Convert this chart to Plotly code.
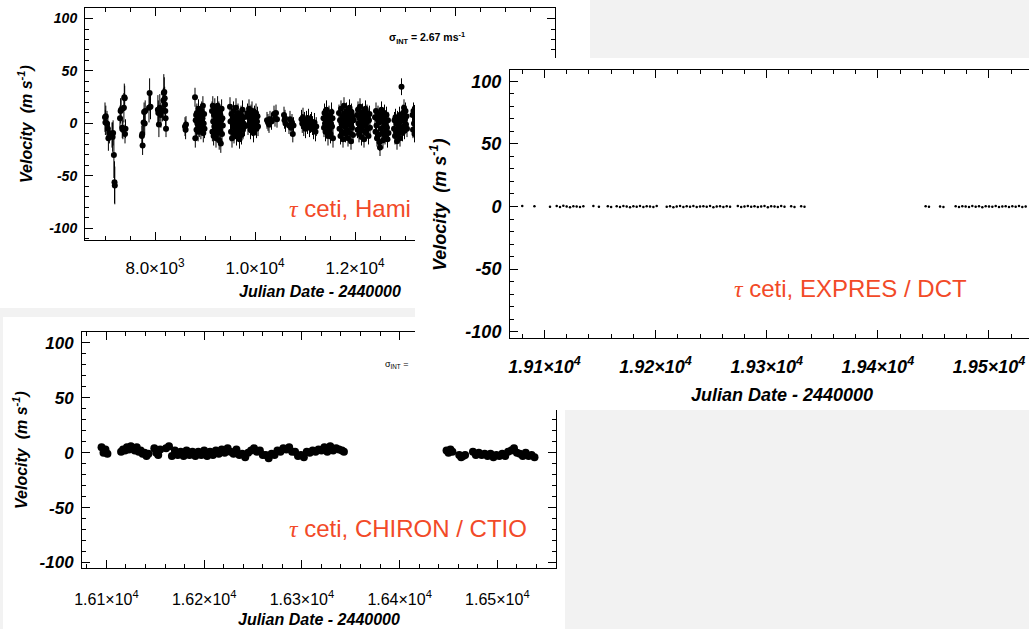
import plotly.graph_objects as go

W, H = 1029, 629

# ---------------- data ----------------
hami_jd = [7000, 7008, 7016, 7040, 7058, 7068, 7088,
           7140, 7152, 7162, 7178, 7190, 7196,
           7300, 7312, 7322, 7345, 7358, 7378, 7386, 7394, 7400, 7410,
           7738, 7746, 7752, 7772, 7782, 7794, 7804,
           7880, 7892, 7910,
           8058, 8066, 8078, 8096, 8118, 8148, 8168, 8176, 8186, 8194, 8200, 8206, 8212, 8220,
           8600, 8612, 8620,
           8800, 8806, 8814, 8822, 8830, 8838, 8846, 8854, 8862, 8870, 8878, 8886, 8894, 8902, 8910, 8918,
           8926, 8934, 8942, 8950, 8958, 8966, 8974, 8982, 8990,
           9140, 9148, 9156, 9164, 9172, 9180, 9188, 9196, 9204, 9212, 9220, 9228, 9236, 9244, 9252, 9260,
           9268, 9276, 9284, 9292, 9300, 9308, 9316, 9324, 9332, 9340, 9348, 9356,
           9500, 9510, 9520, 9530, 9540, 9550, 9560, 9570, 9580, 9590, 9600, 9610, 9620, 9630, 9640, 9650,
           9660, 9670, 9680, 9690, 9700, 9710, 9720, 9730, 9740, 9750, 9760, 9770, 9780, 9790,
           9850, 9860, 9870, 9880, 9890, 9900, 9910, 9920, 9930, 9940, 9950, 9960, 9970, 9980, 9990, 10000,
           10010, 10020, 10030, 10040, 10050, 10060,
           10240, 10260, 10280, 10300, 10330, 10380, 10400, 10420, 10440,
           10580, 10590, 10600, 10610, 10680, 10700, 10720, 10740, 10756, 10770,
           10930, 10945, 10960, 10975, 10990, 11010, 11030, 11050, 11070, 11090, 11110, 11130, 11150, 11170,
           11190, 11210, 11225,
           11370, 11380, 11390, 11400, 11410, 11420, 11430, 11440, 11450, 11460, 11470, 11480, 11490, 11500,
           11510, 11520, 11530, 11540, 11550, 11560,
           11680, 11690, 11700, 11710, 11720, 11730, 11740, 11750, 11760, 11770, 11780, 11790, 11800, 11810,
           11820, 11830, 11840, 11850, 11860, 11870, 11880, 11890, 11900, 11910, 11920, 11930, 11940, 11950,
           11960, 11970,
           12040, 12050, 12060, 12070, 12080, 12090, 12100, 12110, 12120, 12130, 12140, 12150, 12160, 12170,
           12180, 12190, 12200, 12210, 12220, 12230, 12240, 12250, 12260, 12270, 12280, 12290, 12300,
           12400, 12410, 12420, 12430, 12440, 12450, 12460, 12470, 12480, 12490, 12500, 12510, 12520, 12530,
           12540, 12550, 12560, 12570, 12580, 12590, 12600, 12610, 12620, 12630, 12640, 12650, 12660, 12670,
           12780, 12790, 12800, 12810, 12820, 12830, 12840, 12850, 12860, 12870, 12880, 12890, 12900, 12910,
           12920, 12930, 12940, 12950, 12960, 12970, 12980, 12990, 13000, 13010, 13020, 13030, 13040,
           13150, 13160, 13170, 13180, 13190, 13200, 13210, 13220, 13230, 13240, 13250]
hami_rv = [6, 1, 7, 0, -5, -14, -9,
           -11, -13, -9, -30, -56, -59,
           5, 12, 13, -4, -6, 15, 25, 24, -10, -5,
           -12, -10, -21, 1, 11, 0, 12,
           15, 29, 16,
           13, 10, -1, 15, 8, 12, 22, 29, 30, 24, 18, 12, 5, -5,
           -3, -6, -1,
           25, -14, 3, 8, -6, 10, 0, 5, -8, 14, 2, -4, 6, -2, 8, -6,
           3, 12, -3, 5, 17, -9, 0, 9, -5,
           12, -8, 17, 2, -12, 8, -3, 15, -6, 4, -14, 10, 0, -9, 17, 6,
           -4, 12, -16, 2, -7, 8, -19, 3, 14, -10, 5, -2,
           16, 2, -8, 9, -14, 4, -3, 12, -10, 0, 7, -6, 15, -12, 3, -2,
           10, -8, 1, -15, 5, -4, 8, -11, 2, 13, -6, 0, 6, -3,
           10, -2, 6, 14, 0, 4, -6, 9, 2, 12, -3, 6, -9, 3, 8, -1,
           5, 10, -5, 2, 7, -3,
           3, 1, -1, 4, 2, 9, 5, 10, 4,
           8, 3, 5, 0, -2, 4, -4, 1, -10, -2,
           4, 0, 6, -3, 2, -5, 3, -1, 5, -4, 0, 2, -2, -6,
           1, -8, -3,
           5, -4, 10, 0, -8, 3, 13, -2, 6, -12, 1, 8, -6, 4,
           -10, 0, 11, -3, 5, -14,
           10, -5, 3, -12, 14, 0, -8, 7, -15, 4, 17, -3, 9, -10,
           1, 12, -6, 5, -14, 8, -1, 15, -9, 2, -17, 11, -4, 6,
           -11, 3,
           8, -6, 13, 0, -10, 5, 16, -3, 9, -13, 2, 11, -7, 4,
           -15, 7, -2, 14, -9, 1, 10, -5, 6, -12, 3, 9, -4,
           6, -8, 12, -2, -14, 4, 9, -11, 1, -18, -23, 7, -5, 13,
           -9, 2, -16, 5, -3, 10, -12, 0, -7, 8, -4, -15, 3, -9,
           -5, 3, -12, 6, -8, 0, -17, 4, -10, 1, -4, 8, -14, 2,
           -6, 35, 5, -9, 10, -3, 15, -7, 4, 12, -1, 7, -5,
           8, -6, 12, 0, -10, 5, 15, -4, 9, -12, 3]
hami_err = [14, 12, 10, 12, 11, 12, 10,
            12, 14, 12, 22, 20, 18,
            12, 12, 11, 10, 9, 14, 13, 12, 9, 9,
            10, 9, 9, 9, 9, 9, 10,
            14, 14, 12,
            14, 12, 12, 13, 12, 10, 12, 18, 14, 11, 10, 9, 9, 8,
            9, 9, 8] + [9] * 25 + [9] * 28 + [9] * 30 + [9] * 22 + [8] * 9 + [8] * 10 + [9] * 17 + [9] * 20 \
           + [8] * 30 + [8] * 27 + [8] * 28 + [8] * 27 + [8] * 11

chiron_jd = [16095, 16097, 16099, 16101,
             16115, 16117, 16119, 16121, 16123, 16125, 16127, 16129, 16131, 16133, 16135, 16137, 16139, 16141, 16143,
             16149, 16151, 16153, 16155,
             16161, 16164, 16167, 16170, 16173, 16176, 16179, 16182, 16185, 16188, 16191, 16194, 16197, 16200,
             16203, 16206, 16209, 16212, 16215, 16218, 16221, 16224, 16227, 16230, 16233, 16236, 16239, 16242,
             16245, 16248, 16251, 16254, 16257, 16260, 16263, 16266, 16269, 16272, 16275, 16278, 16281, 16284,
             16287, 16290, 16293, 16296, 16299, 16302, 16305, 16308, 16311, 16314, 16317, 16320, 16323, 16326,
             16329, 16332, 16335, 16338, 16341, 16343,
             16448, 16450, 16452, 16454,
             16461, 16463, 16465, 16467,
             16475, 16478, 16481, 16484, 16487, 16490, 16493, 16496, 16499, 16502, 16505, 16508, 16511, 16514,
             16517, 16520, 16523, 16526, 16529, 16532, 16535, 16538]
chiron_rv = [5, 0, 3, -1,
             1, 3, 2, 5, 3, 6, 4, 2, 5, 1, 2, -1, 0, -3, -1,
             4, 0, -2, 3,
             4, 6, -3, 2, -2, 1, -3, 2, -2, 1, -3, 1, -2, 2,
             -3, 1, -2, 2, -1, 3, 0, 4, 1, -1, 3, -2, -1, -4,
             0, 2, 4, 1, 2, -2, -2, -5, -1, -2, 2, 1, 4, 3,
             5, 1, 1, -3, -2, -4, 1, 0, 2, 1, 3, 2, 5, 1,
             6, 2, 4, 3, 2, 1,
             2, 0, 3, 1,
             -2, -4, -3, -2,
             1, -2, 0, -2, -1, -3, -1, -4, -2, -3, -1, -3, 1, 2,
             4, 0, -1, -3, 0, -3, -2, -4]
chiron_err = [3] * len(chiron_jd)

expres_jd = [19080, 19091, 19105,
             19111, 19114, 19117, 19120, 19123, 19126, 19129, 19132, 19135,
             19144, 19149, 19157, 19160,
             19165, 19168, 19171, 19174, 19177, 19180, 19183, 19186, 19189, 19192, 19195, 19198, 19201,
             19210, 19213, 19216, 19219, 19222, 19225, 19228, 19231, 19234, 19237, 19240, 19243, 19246,
             19249, 19252, 19255, 19258, 19261, 19264, 19267, 19274, 19277, 19280, 19283, 19286, 19289,
             19292, 19295, 19298, 19301, 19304, 19307, 19310, 19313, 19316, 19322, 19325, 19331, 19334,
             19443, 19446, 19456, 19459,
             19470, 19473, 19476, 19479, 19482, 19485, 19488, 19491, 19494, 19497, 19500, 19503, 19506,
             19509, 19512, 19515, 19518, 19521, 19524, 19527, 19530, 19533]
expres_rv = [0.5, 0.3, -0.2,
             0.4, -0.3, 0.6, 0.1, -0.5, 0.3, 0.0, -0.4, 0.2,
             0.5, -0.2, 0.3, -0.4,
             0.2, -0.3, 0.4, 0.0, -0.5, 0.3, -0.1, 0.5, -0.4, 0.2, 0.0, -0.3, 0.4,
             -0.2, 0.3, -0.5, 0.1, 0.4, -0.3, 0.2, -0.1, 0.5, -0.4, 0.0, 0.3, -0.2,
             0.4, -0.5, 0.1, 0.3, -0.3, 0.2, -0.1, 0.4, -0.4, 0.0, 0.5, -0.2, 0.3,
             -0.3, 0.1, 0.4, -0.5, 0.2, 0.0, -0.3, 0.4, -0.1, 0.3, -0.4, 0.2, -0.2,
             0.3, -0.2, 0.1, -0.3,
             0.2, -0.4, 0.3, 0.0, -0.3, 0.4, -0.1, 0.2, -0.5, 0.3, 0.0, -0.2, 0.4,
             -0.3, 0.1, 0.3, -0.4, 0.2, -0.1, 0.4, -0.3, 0.0]
expres_err = [0.6] * len(expres_jd)

# Hami ticks at 1.4e4 and 1.6e4 sit under the EXPRES panel, so their labels are blank
hami_xticks = [8000, 10000, 12000, 14000, 16000]
hami_xtext = ["8.0×10<sup>3</sup>", "1.0×10<sup>4</sup>", "1.2×10<sup>4</sup>", "", ""]
chiron_xticks = [16100, 16200, 16300, 16400, 16500]
chiron_xtext = ["1.61×10<sup>4</sup>", "1.62×10<sup>4</sup>", "1.63×10<sup>4</sup>",
                "1.64×10<sup>4</sup>", "1.65×10<sup>4</sup>"]
expres_xticks = [19100, 19200, 19300, 19400, 19500]
expres_xtext = ["1.91×10<sup>4</sup>", "1.92×10<sup>4</sup>", "1.93×10<sup>4</sup>",
                "1.94×10<sup>4</sup>", "1.95×10<sup>4</sup>"]
vel_ticks = [-100, -50, 0, 50, 100]
vel_text = ["-100", "-50", "0", "50", "100"]

RED = "#f24a28"
SANS = "Liberation Sans"


def px(x):
    return x / W


def py(y):
    return 1 - y / H


fig = go.Figure()

err_style = dict(type="data", thickness=1, width=0, color="black")
fig.add_trace(go.Scatter(x=hami_jd, y=hami_rv, mode="markers", xaxis="x", yaxis="y",
                         marker=dict(size=6, color="black"),
                         error_y=dict(array=hami_err, **err_style), showlegend=False))
fig.add_trace(go.Scatter(x=chiron_jd, y=chiron_rv, mode="markers", xaxis="x2", yaxis="y2",
                         marker=dict(size=8, color="black"),
                         error_y=dict(array=chiron_err, **err_style), showlegend=False))
# empty subplot acting as the EXPRES screenshot's white panel (drawn over the lower panels)
fig.add_trace(go.Scatter(x=[], y=[], mode="markers", xaxis="x3", yaxis="y3", showlegend=False))
fig.add_trace(go.Scatter(x=expres_jd, y=expres_rv, mode="markers", xaxis="x4", yaxis="y4",
                         marker=dict(size=2.5, color="black"),
                         error_y=dict(array=expres_err, **err_style), showlegend=False))


def xax(anchor, dom, rng, tv, tt, fsize, bold, minor_dt, standoff):
    f = dict(family=SANS, size=fsize, color="black")
    if bold:
        f.update(weight="bold", style="italic")
    return dict(anchor=anchor, domain=dom, range=rng, tickmode="array", tickvals=tv, ticktext=tt,
                ticks="inside", ticklen=8, tickcolor="black", tickwidth=1,
                showline=True, linecolor="black", linewidth=1, mirror="ticks",
                showgrid=False, zeroline=False, tickfont=f, ticklabelstandoff=standoff,
                minor=dict(ticks="inside", ticklen=4, dtick=minor_dt, tick0=0,
                           tickcolor="black", showgrid=False))


def yax(anchor, dom, rng, fsize, mirror, standoff):
    return dict(anchor=anchor, domain=dom, range=rng, tickmode="array", tickvals=vel_ticks,
                ticktext=vel_text,
                ticks="inside", ticklen=8, tickcolor="black", tickwidth=1,
                showline=True, linecolor="black", linewidth=1, mirror=mirror,
                showgrid=False, zeroline=False, ticklabelstandoff=standoff,
                tickfont=dict(family=SANS, size=fsize, color="black", weight="bold", style="italic"),
                minor=dict(ticks="inside", ticklen=4, dtick=10, tick0=0,
                           tickcolor="black", showgrid=False))


fig.update_layout(
    width=W, height=H, margin=dict(l=0, r=0, t=0, b=0, autoexpand=False),
    paper_bgcolor="#f2f2f2", plot_bgcolor="white", showlegend=False,
    xaxis=xax("y", [px(85), px(555)], [6600, 16000], hami_xticks, hami_xtext, 17, False, 500, 13),
    yaxis=yax("x", [py(240), py(8)], [-111, 110], 14, "ticks", 4),
    xaxis2=xax("y2", [px(82), px(556)], [16075, 16560], chiron_xticks, chiron_xtext, 16, False, 20, 17),
    yaxis2=yax("x2", [py(568), py(332)], [-105, 110], 17, "ticks", 4),
    xaxis3=dict(anchor="y3", domain=[px(415), 1.0], range=[0, 1], visible=False,
                showgrid=False, zeroline=False),
    yaxis3=dict(anchor="x3", domain=[py(410), py(58)], range=[0, 1], visible=False,
                showgrid=False, zeroline=False),
    xaxis4=xax("y4", [px(510), 1.0], [19069, 19536], expres_xticks, expres_xtext, 18, True, 20, 12),
    yaxis4=yax("x4", [py(338), py(70)], [-105, 109], 18, False, 4),
)

# white screenshot panels (below everything)
fig.add_shape(type="rect", xref="paper", yref="paper", x0=0, x1=px(590), y0=py(308), y1=1,
              fillcolor="white", line_width=0, layer="below")
fig.add_shape(type="rect", xref="paper", yref="paper", x0=px(3), x1=px(565), y0=0, y1=py(317),
              fillcolor="white", line_width=0, layer="below")

BI = dict(family=SANS, color="black", weight="bold", style="italic")
TAU = "<span style=\"font-family:'Liberation Serif';font-style:italic\">τ</span>"


def ann(x, y, text, size, xanchor="center", angle=0, font=None):
    f = dict(BI) if font is None else dict(font)
    f["size"] = size
    fig.add_annotation(x=px(x), y=py(y), xref="paper", yref="paper", text=text, showarrow=False,
                       xanchor=xanchor, yanchor="middle", textangle=angle, font=f)


# axis titles
ann(25, 124, "Velocity  (m s<sup>-1</sup>)", 16, angle=-90)
ann(320, 291, "Julian Date - 2440000", 16)
ann(20, 450, "Velocity  (m s<sup>-1</sup>)", 16, angle=-90)
ann(319, 619, "Julian Date - 2440000", 16)
ann(438, 205, "Velocity  (m s<sup>-1</sup>)", 18, angle=-90)
ann(782, 395, "Julian Date - 2440000", 18)

# sigma labels
ann(387, 38, "σ<sub>INT</sub> = 2.67 ms<sup>-1</sup>", 10.5, xanchor="left",
    font=dict(family=SANS, color="black", weight="bold"))
ann(383, 364, "σ<sub>INT</sub> =", 9, xanchor="left", font=dict(family=SANS, color="black"))

# instrument labels
RF = dict(family=SANS, color=RED)
ann(287, 208, TAU + " ceti, Hami", 24, xanchor="left", font=RF)
ann(287, 528, TAU + " ceti, CHIRON / CTIO", 24, xanchor="left", font=RF)
ann(732, 288, TAU + " ceti, EXPRES / DCT", 24, xanchor="left", font=RF)

fig.write_html("out.html")
